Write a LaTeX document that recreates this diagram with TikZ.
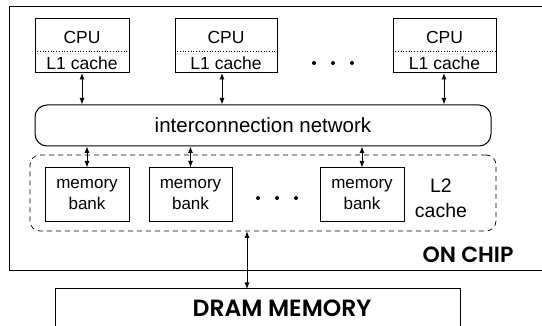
\documentclass[tikz,border=0pt]{standalone}
\usepackage{fontspec}
\setmainfont{Liberation Sans}
\newfontfamily\geofont{Poppins}[BoldFont={Poppins SemiBold}]
\usetikzlibrary{arrows.meta}
\begin{document}
\begin{tikzpicture}[x=1pt,y=-1pt,line width=1pt,
  unitbox/.style={draw,inner sep=0pt,minimum height=54pt},
  biarrow/.style={{Latex[length=6.5pt,width=5pt]}-{Latex[length=6.5pt,width=5pt]},line width=0.9pt},
  cputext/.style={font=\fontsize{17.5}{18}\selectfont,inner sep=0pt},
  memtext/.style={font=\fontsize{17}{21}\selectfont,align=center,inner sep=0pt},
  bigtext/.style={font=\geofont\bfseries\fontsize{22}{24}\selectfont,inner sep=0pt},
  dotmark/.style={fill=black}]
\useasboundingbox (0,0) rectangle (542,326);
% chip outline
\draw (542,7) -- (9,7) -- (9,271) -- (542,271);
% CPUs
\node[unitbox,minimum width=94pt]  (cpu1) at (82,46) {};
\node[unitbox,minimum width=102pt] (cpu2) at (226,46) {};
\node[unitbox,minimum width=103pt] (cpu3) at (444.5,46) {};
\foreach \c in {cpu1,cpu2,cpu3}{
  \draw[dotted,line width=0.7pt] (\c.west |- 0,51) -- (\c.east |- 0,51);
  \node[cputext] at ([yshift=9pt]\c.center) {CPU};
  \node[cputext] at ([yshift=-17pt]\c.center) {L1 cache};
}
\foreach \x in {314,333,352} \fill[dotmark] (\x,63) circle (2pt);
% network
\node[draw,rounded corners=12pt,minimum width=456pt,minimum height=41pt,inner sep=0pt,
  font=\fontsize{20.5}{22}\selectfont] (net) at (263,125.5) {interconnection network};
\coordinate (a1) at (82,73);
\coordinate (a2) at (222,73);
\coordinate (a3) at (444,73);
\draw[biarrow] (a1) -- (net.north -| a1);
\draw[biarrow] (a2) -- (net.north -| a2);
\draw[biarrow] (a3) -- (net.north -| a3);
% L2 cache
\node[draw,dashed,dash pattern=on 5pt off 4pt,rounded corners=10pt,line width=0.7pt,
  minimum width=466pt,minimum height=76pt,inner sep=0pt] (l2) at (263,193) {};
\node[unitbox,minimum width=84pt,memtext] (m1) at (87,195) {memory\\bank};
\node[unitbox,minimum width=83pt,memtext] (m2) at (190.5,195) {memory\\bank};
\node[unitbox,minimum width=84pt,memtext] (m3) at (362,195) {memory\\bank};
\foreach \x in {258,277,296} \fill[dotmark] (\x,198) circle (2pt);
\node[font=\fontsize{19.5}{25}\selectfont,align=center,inner sep=0pt] (l2t) at (441,198.5) {L2\\cache};
\draw[biarrow] (net.south -| m1) -- (m1.north);
\draw[biarrow] (net.south -| m2) -- (m2.north);
\draw[biarrow] (net.south -| m3) -- (m3.north);
% on chip label
\node[bigtext] (onchip) at (468,255) {ON CHIP};
% DRAM
\draw (55,326) -- (55,289) -- (460,289) -- (460,326);
\coordinate (dramtop) at (247,289);
\node[bigtext,font=\geofont\bfseries\fontsize{23.5}{26}\selectfont] (dram) at (282,308.5) {DRAM MEMORY};
\draw[biarrow] (l2.south -| dramtop) -- (dramtop);
\end{tikzpicture}
\end{document}
